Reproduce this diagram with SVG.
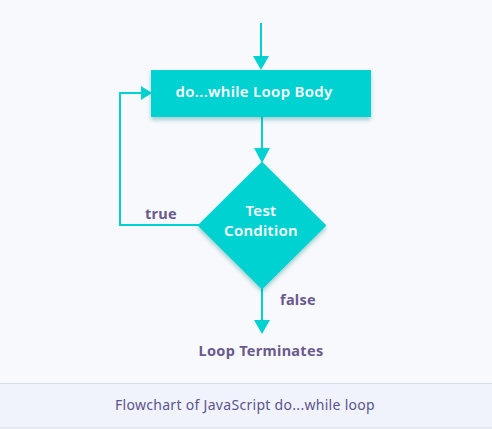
<svg xmlns="http://www.w3.org/2000/svg" width="492" height="429" viewBox="0 0 492 429">
<defs>
<filter id="sh" x="-20%" y="-20%" width="140%" height="160%">
<feDropShadow dx="0" dy="3" stdDeviation="2" flood-color="#007f7f" flood-opacity="0.35"/>
</filter>
</defs>
<style>
.node{fill:#00d1d1;filter:url(#sh)}
.wt{fill:#ffffff;font-family:"Noto Sans","Liberation Sans",sans-serif;font-size:15px;font-weight:600;text-anchor:middle;letter-spacing:0.3px}
.pt{fill:#6a5a8e;font-family:"Noto Sans","Liberation Sans",sans-serif;font-size:14.5px;font-weight:700;text-anchor:middle;letter-spacing:0.3px}
.cap{fill:#5c5490;font-family:"Noto Sans","Liberation Sans",sans-serif;font-size:14px;text-anchor:middle;letter-spacing:0.3px}
.ln{fill:none;stroke:#00d1d1;stroke-width:2}
.hd{fill:#00d1d1}
</style>
<rect x="0" y="0" width="492" height="429" fill="#f8f9fc"/>
<g id="caption">
<rect x="0" y="383" width="492" height="45" fill="#f0f3fb"/>
<line x1="0" y1="383.5" x2="492" y2="383.5" stroke="#d5dbe8" stroke-width="1"/>
<line x1="0" y1="428" x2="492" y2="428" stroke="#d5dbe8" stroke-width="1"/>
<text class="cap" x="245" y="410">Flowchart of JavaScript do...while loop</text>
</g>
<g id="connectors">
<line class="ln" x1="261" y1="23" x2="261" y2="57"/>
<polygon class="hd" points="253,56 269,56 261,70"/>
<line class="ln" x1="262" y1="117" x2="262" y2="149"/>
<polygon class="hd" points="254,148 270,148 262,163"/>
<polyline class="ln" points="199,225 120,225 120,93 142,93"/>
<polygon class="hd" points="141,86 141,100 152,93"/>
<line class="ln" x1="262" y1="288" x2="262" y2="321"/>
<polygon class="hd" points="254,320 270,320 262,334"/>
<text class="pt" x="161" y="219">true</text>
<text class="pt" x="298" y="305">false</text>
</g>
<g id="body">
<rect class="node" x="151" y="70" width="220" height="47"/>
<text class="wt" x="254" y="97">do...while Loop Body</text>
</g>
<g id="condition">
<path class="node" d="M262,163 L325,225.5 L262,288 L199,225.5 Z" stroke="#00d1d1" stroke-width="2" stroke-linejoin="round"/>
<text class="wt" x="261" y="216">Test</text>
<text class="wt" x="261" y="236">Condition</text>
</g>
<g id="terminate">
<text class="pt" x="261" y="356">Loop Terminates</text>
</g>
</svg>
